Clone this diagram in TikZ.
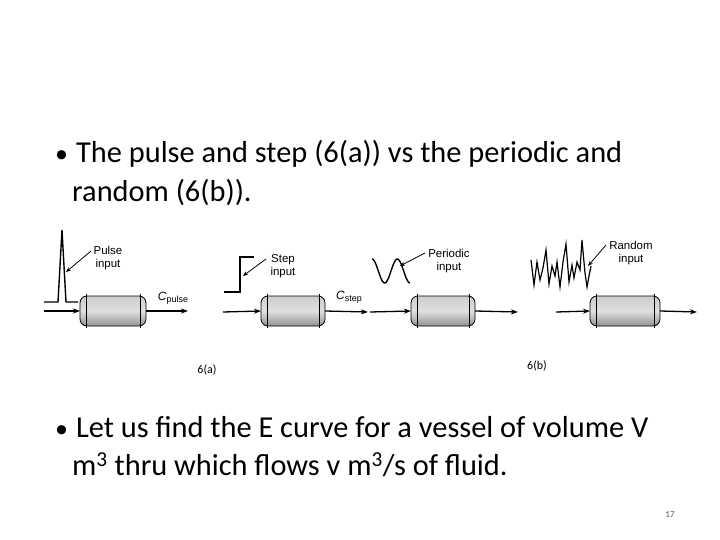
\documentclass[tikz,border=0pt]{standalone}
\usepackage{fontspec}
\setmainfont{Carlito}
\setsansfont{Liberation Sans}
\usetikzlibrary{arrows.meta}
\begin{document}
\begin{tikzpicture}[x=1bp,y=-1bp,
  flow/.style={line width=1.3pt,-{Stealth[length=7pt,width=5pt]}},
  leadline/.style={draw=black,line width=0.8pt,-{Stealth[length=5pt,width=4pt]}},
  sig/.style={line width=1.4pt},
  lab/.style={font=\sffamily\fontsize{11.5}{12.5}\selectfont,align=center,inner sep=1pt},
  body/.style={font=\fontsize{30.5}{34}\selectfont,anchor=base west,inner sep=0pt}]
\useasboundingbox (0,0) rectangle (720,540);
\fill[white] (0,0) rectangle (720,540);
\newcommand{\vessel}[3]{%
  \shade[top color=gray!40,bottom color=gray!85,middle color=gray!25,draw=black,line width=0.8pt,rounded corners=7pt] (#1,296) rectangle (#2,326);
  \draw[line width=1pt] (#1+6,294) -- (#1+6,328);
  \draw[line width=1pt] (#2-6,294) -- (#2-6,328);
  \coordinate (#3w) at (#1,311); \coordinate (#3e) at (#2,311);}
\node[body] (b1) at (55,163) {{\fontsize{26}{26}\selectfont\textbullet}\hspace{8bp}The pulse and step (6(a)) vs the periodic and};
\node[body] (b1b) at (72,202) {random (6(b)).};
\node[body] (b2) at (55,437) {{\fontsize{26}{26}\selectfont\textbullet}\hspace{8bp}Let us find the E curve for a vessel of volume V};
\node[body] (b2b) at (72,475) {m\textsuperscript{3} thru which flows v m\textsuperscript{3}/s of fluid.};
% panel 1
\vessel{80}{146}{v1}
\coordinate (i1) at (44,311); \coordinate (o1) at (188,311);
\draw[flow] (i1) -- (v1w); \draw[flow] (v1e) -- (o1);
\draw[sig] (44,302) -- (58,302) -- (62,230) -- (66,302) -- (78,302);
\node[lab] (p1) at (108,258) {Pulse\\input};
\coordinate (s1) at (91,251); \coordinate (t1) at (66,272);
\path[leadline] (s1) -- (t1);
\node[font=\sffamily\fontsize{12}{12}\selectfont,inner sep=0pt] (c1) at (173,298) {\textit{C}\raisebox{-2pt}{\fontsize{9}{9}\selectfont pulse}};
% panel 2
\vessel{261}{325}{v2}
\coordinate (i2) at (223,312); \coordinate (o2) at (368,312);
\draw[flow] (i2) -- (v2w); \draw[flow] (v2e) -- (o2);
\draw[sig] (224,292) -- (240,292) -- (240,257) -- (254,257);
\node[lab] (p2) at (283,266) {Step\\input};
\coordinate (s2) at (266,259); \coordinate (t2) at (243,276);
\path[leadline] (s2) -- (t2);
\node[font=\sffamily\fontsize{12}{12}\selectfont,inner sep=0pt] (c2) at (349,297) {\textit{C}\raisebox{-2pt}{\fontsize{9}{9}\selectfont step}};
% panel 3
\vessel{411}{475}{v3}
\coordinate (i3) at (370,312); \coordinate (o3) at (518,312);
\draw[flow] (i3) -- (v3w); \draw[flow] (v3e) -- (o3);
\draw[sig,domain=0:1,samples=40,variable=\t] plot ({372+38*\t},{271-12*sin(360*\t*1.5+90)});
\node[lab] (p3) at (449,261) {Periodic\\input};
\coordinate (s3) at (425,253); \coordinate (t3) at (400,266);
\path[leadline] (s3) -- (t3);
% panel 4
\vessel{590}{660}{v4}
\coordinate (i4) at (556,312); \coordinate (o4) at (697,312);
\draw[flow] (i4) -- (v4w); \draw[flow] (v4e) -- (o4);
\draw[line width=1.2pt] (531,260) -- (534,285) -- (537,262) -- (540,280) -- (543,268) -- (546,250) -- (549,284) -- (552,266) -- (555,276) -- (557,262) -- (560,287) -- (563,262) -- (566,244) -- (569,282) -- (572,265) -- (574,278) -- (577,262) -- (580,270) -- (582,240) -- (585,273) -- (587,287) -- (589,276) -- (591,266);
\node[lab] (p4) at (631,253) {Random\\input};
\coordinate (s4) at (606,245); \coordinate (t4) at (588,266);
\path[leadline] (s4) -- (t4);
\node[font=\fontsize{12}{14}\selectfont] (la) at (207,370) {6(a)};
\node[font=\fontsize{12}{14}\selectfont] (lb) at (537,366) {6(b)};
\node[font=\fontsize{9}{10}\selectfont,text=gray!70!black] (pg) at (670,515) {17};
\end{tikzpicture}
\end{document}
